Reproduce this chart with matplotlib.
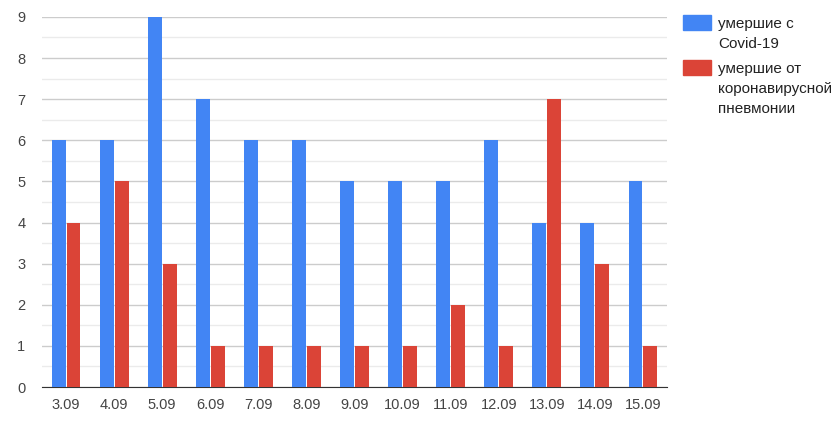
import matplotlib.pyplot as plt
from matplotlib.patches import Rectangle
import numpy as np

plt.rcParams['font.family'] = ['Liberation Sans', 'DejaVu Sans']

dates = ['3.09', '4.09', '5.09', '6.09', '7.09', '8.09', '9.09',
         '10.09', '11.09', '12.09', '13.09', '14.09', '15.09']
covid = [6, 6, 9, 7, 6, 6, 5, 5, 5, 6, 4, 4, 5]
pneumonia = [4, 5, 3, 1, 1, 1, 1, 1, 2, 1, 7, 3, 1]
labels = ['умершие с\nCovid-19', 'умершие от\nкоронавирусной\nпневмонии']

blue = '#4285F4'
red = '#DB4437'

fig = plt.figure(figsize=(8.4, 4.23), dpi=100)
ax = fig.add_axes([0.05, 0.085, 0.744, 0.875])

x = np.arange(len(dates))
w = 0.29
ax.bar(x - 0.155, covid, w, color=blue, zorder=3)
ax.bar(x + 0.155, pneumonia, w, color=red, zorder=3)

ax.set_xlim(-0.5, len(dates) - 0.5)
ax.set_ylim(0, 9)
ax.set_yticks(range(10))
ax.set_yticks(np.arange(0.5, 9, 1), minor=True)
ax.set_xticks(x)
ax.set_xticklabels(dates)
ax.grid(axis='y', which='major', color='#cccccc', lw=1, zorder=0)
ax.grid(axis='y', which='minor', color='#ebebeb', lw=1, zorder=0)
for s in ['top', 'right', 'left']:
    ax.spines[s].set_visible(False)
ax.spines['bottom'].set_color('#333333')
ax.tick_params(axis='both', which='both', length=0, labelsize=10.5, colors='#444444')
ax.tick_params(axis='y', pad=12)
ax.tick_params(axis='x', pad=8)

# легенда справа
fig.patches.append(Rectangle((683 / 840, 1 - 30 / 423), 28 / 840, 15 / 423,
                             transform=fig.transFigure, color=blue))
fig.patches.append(Rectangle((683 / 840, 1 - 75 / 423), 28 / 840, 15 / 423,
                             transform=fig.transFigure, color=red))
fig.text(718 / 840, 1 - 17 / 423, labels[0], va='top', ha='left',
         fontsize=11, color='#222222', linespacing=1.55)
fig.text(718 / 840, 1 - 62 / 423, labels[1], va='top', ha='left',
         fontsize=11, color='#222222', linespacing=1.55)

fig.savefig('out.png', dpi=100)
